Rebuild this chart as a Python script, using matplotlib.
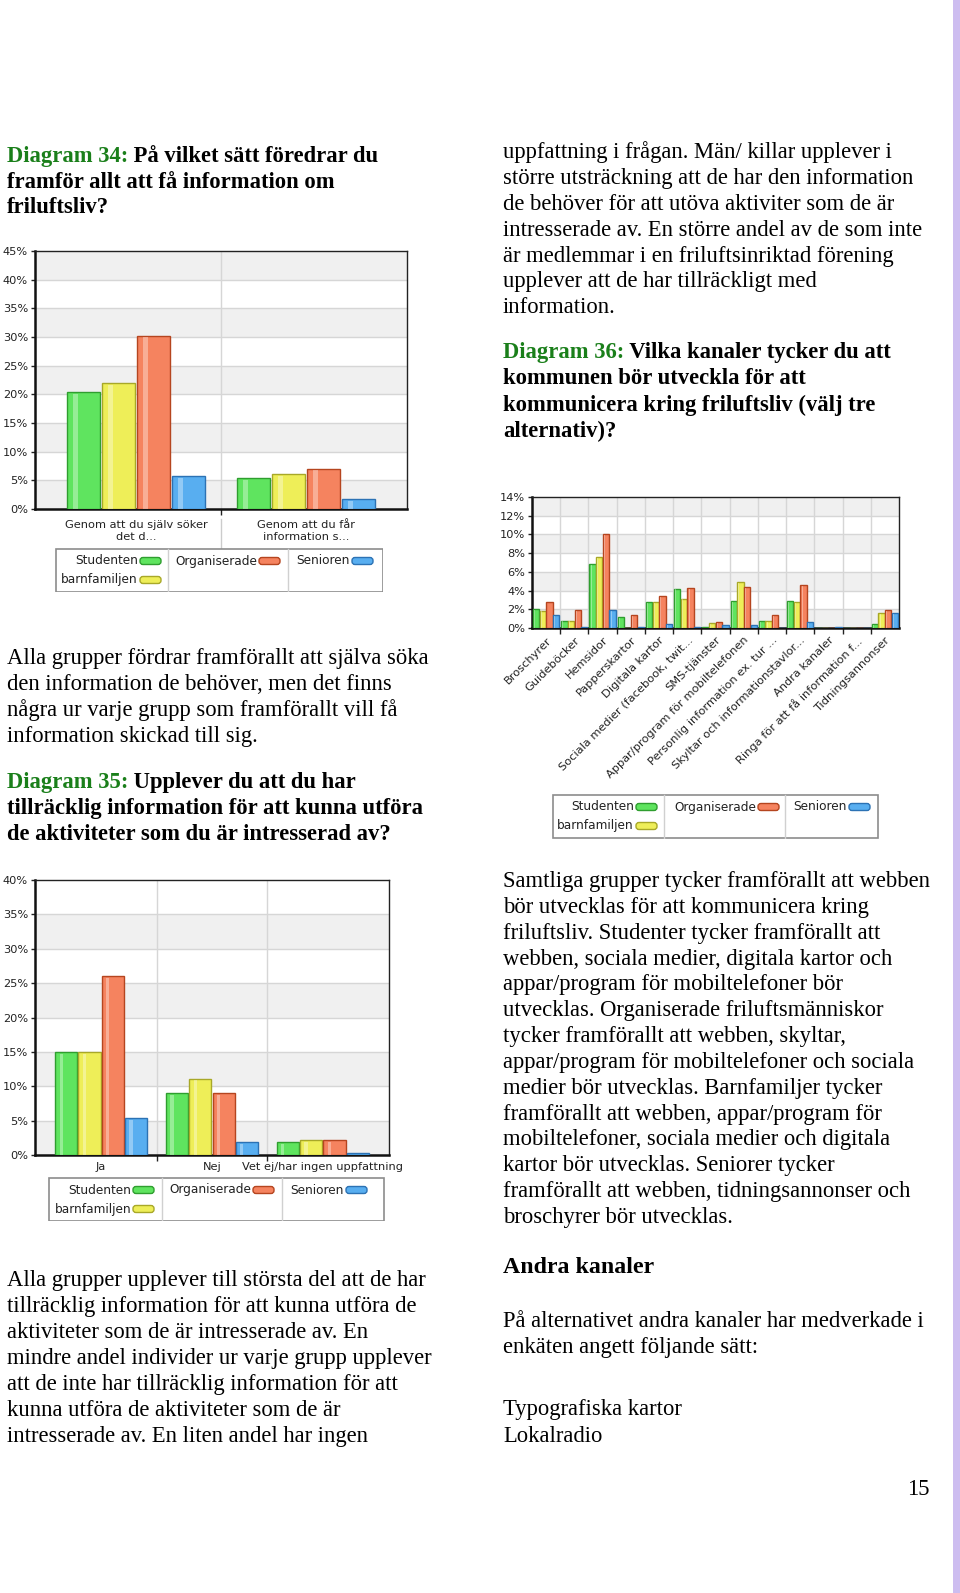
import numpy as np
import matplotlib
matplotlib.use("Agg")
import matplotlib.pyplot as plt
from matplotlib.patches import FancyBboxPatch, Rectangle
from matplotlib.lines import Line2D

# ---------------- data ----------------
series_names = ["Studenten", "barnfamiljen", "Organiserade", "Senioren"]

cat34 = ["Genom att du själv söker\ndet d...", "Genom att du får\ninformation s..."]
stud34 = [20.4, 5.4]
barn34 = [21.9, 6.1]
org34 = [30.2, 7.0]
sen34 = [5.7, 1.7]
yticks34 = [0, 5, 10, 15, 20, 25, 30, 35, 40, 45]

cat35 = ["Ja", "Nej", "Vet ej/har ingen uppfattning"]
stud35 = [15.0, 9.0, 1.85]
barn35 = [15.0, 11.1, 2.2]
org35 = [26.0, 9.0, 2.2]
sen35 = [5.4, 1.85, 0.3]
yticks35 = [0, 5, 10, 15, 20, 25, 30, 35, 40]

cat36 = ["Broschyrer", "Guideböcker", "Hemsidor", "Papperskartor", "Digitala kartor",
         "Sociala medier (facebook, twit...", "SMS-tjänster",
         "Appar/program för mobiltelefonen", "Personlig information ex. tur ...",
         "Skyltar och informationstavlor...", "Andra kanaler",
         "Ringa för att få information f...", "Tidningsannonser"]
stud36 = [2.0, 0.8, 6.8, 1.2, 2.8, 4.2, 0.15, 2.9, 0.7, 2.9, 0.0, 0.0, 0.45]
barn36 = [1.85, 0.8, 7.6, 0.0, 2.8, 3.15, 0.5, 4.9, 0.7, 2.8, 0.0, 0.0, 1.6]
org36 = [2.8, 1.95, 10.0, 1.35, 3.4, 4.3, 0.6, 4.35, 1.35, 4.6, 0.0, 0.0, 1.9]
sen36 = [1.4, 0.15, 1.9, 0.15, 0.45, 0.15, 0.3, 0.3, 0.0, 0.6, 0.15, 0.0, 1.6]
yticks36 = [0, 2, 4, 6, 8, 10, 12, 14]

# ---------------- style ----------------
FILLS = ["#5fe45f", "#eeee58", "#f5835f", "#58aef0"]
EDGES = ["#2f9e2f", "#a8a828", "#b5451f", "#2c72b4"]
GREEN_HEAD = "#1a7f1a"
SERIF = "Liberation Serif"
SANS = "DejaVu Sans"
BODY = 16.3
TICK = 8.2

W, H = 960, 1593
fig = plt.figure(figsize=(W / 100, H / 100), dpi=100)
fig.patch.set_facecolor("white")


def rect(x0, y0, x1, y1):
    return [x0 / W, 1 - y1 / H, (x1 - x0) / W, (y1 - y0) / H]


def fx(x):
    return x / W


def fy(y):
    return 1 - y / H


renderer = fig.canvas.get_renderer()


def body(x, y, lines, step=26.0, **kw):
    for i, ln in enumerate(lines):
        fig.text(fx(x), fy(y + i * step), ln, fontsize=BODY, family=SERIF,
                 va="baseline", ha="left", color="black", **kw)


def heading(x, y, label, lines, step=26.0):
    t = fig.text(fx(x), fy(y), label, fontsize=BODY, family=SERIF, weight="bold",
                 va="baseline", ha="left", color=GREEN_HEAD)
    bb = t.get_window_extent(renderer)
    fig.text(bb.x1 / W, fy(y), " " + lines[0], fontsize=BODY, family=SERIF,
             weight="bold", va="baseline", ha="left", color="black")
    for i, ln in enumerate(lines[1:], start=1):
        fig.text(fx(x), fy(y + i * step), ln, fontsize=BODY, family=SERIF,
                 weight="bold", va="baseline", ha="left", color="black")


def bar_chart(box, cats, series, yticks, width, xpad, rotate=False, sep_line=None,
              xpad_pts=4, linespacing=1.05):
    ax = fig.add_axes(rect(*box))
    n = len(cats)
    x = np.arange(n)
    ymax = yticks[-1]
    ax.set_xlim(-xpad, n - 1 + xpad)
    ax.set_ylim(0, ymax)
    # alternating bands
    for k in range(0, len(yticks) - 1, 2):
        ax.axhspan(yticks[k], yticks[k + 1], color="#f0f0f0", zorder=0, lw=0)
    for t in yticks[1:-1]:
        ax.axhline(t, color="#d6d6d6", lw=1.0, zorder=1)
    for b in np.arange(n - 1) + 0.5:
        ax.axvline(b, color="#d6d6d6", lw=1.0, zorder=1)
    for i, vals in enumerate(series):
        vals = np.asarray(vals, dtype=float)
        off = (i - 1.5) * width
        ax.bar(x + off, vals, width=width * 0.95, color=FILLS[i], edgecolor=EDGES[i],
               linewidth=1.0, zorder=3)
        hv = np.where(vals > 0.3, vals - ymax * 0.006, 0)
        ax.bar(x + off - width * 0.22, hv, width=width * 0.14, color="white",
               alpha=0.35, linewidth=0, zorder=4)
    ax.set_yticks(yticks)
    ax.set_yticklabels([f"{v}%" for v in yticks], fontsize=TICK, family=SANS, color="#222")
    ax.set_xticks(x)
    if rotate:
        ax.set_xticklabels(cats, rotation=45, ha="right", rotation_mode="anchor",
                           fontsize=TICK, family=SANS, color="#222")
    else:
        ax.set_xticklabels(cats, fontsize=TICK, family=SANS, color="#222",
                           linespacing=linespacing)
    ax.tick_params(axis="x", length=0, pad=xpad_pts)
    ax.tick_params(axis="y", length=3, width=1, pad=2, color="#222")
    ax.set_xticks(np.arange(n - 1) + 0.5, minor=True)
    ax.tick_params(axis="x", which="minor", length=4, width=1, color="#222")
    for s in ["left", "bottom"]:
        ax.spines[s].set_linewidth(1.8)
        ax.spines[s].set_color("#111")
    for s in ["top", "right"]:
        ax.spines[s].set_linewidth(1.0)
        ax.spines[s].set_color("#222")
    if sep_line is not None:
        for b in np.arange(n - 1) + 0.5:
            ax.add_line(Line2D([b, b], [sep_line[0] * ymax, sep_line[1] * ymax],
                               color="#cccccc", lw=1.0, clip_on=False))
    return ax


def legend_box(x0, y0, x1, y1, seps, sw):
    lax = fig.add_axes(rect(x0, y0, x1, y1))
    lax.set_xlim(0, x1 - x0)
    lax.set_ylim(y1 - y0, 0)
    lax.axis("off")
    lax.add_patch(Rectangle((0.5, 0.5), x1 - x0 - 1, y1 - y0 - 1, fill=True,
                            facecolor="white", edgecolor="#8c8c8c", lw=1.2))
    for s in seps:
        lax.add_line(Line2D([s, s], [1, y1 - y0 - 1], color="#d0d0d0", lw=1.0))
    pos = [(sw[0], 13), (sw[0], 32), (sw[1], 13), (sw[2], 13)]
    for i, name in enumerate(series_names):
        sx, sy = pos[i]
        lax.add_patch(FancyBboxPatch((sx + 1, sy - 3.5), 21, 7,
                                     boxstyle="round,pad=0,rounding_size=3",
                                     facecolor=FILLS[i], edgecolor=EDGES[i], lw=1.0))
        lax.text(sx - 1, sy, name, fontsize=8.7, family=SANS, ha="right",
                 va="center", color="#222")
    return lax


# ---------------- charts ----------------
bar_chart((35, 251, 407, 509), cat34, [stud34, barn34, org34, sen34], yticks34,
          width=0.206, xpad=0.595, sep_line=(-0.04, -0.15), xpad_pts=8,
          linespacing=1.25)
legend_box(55, 548, 383, 592, seps=[113, 233], sw=[84, 203, 296])

bar_chart((532, 497, 899, 628), cat36, [stud36, barn36, org36, sen36], yticks36,
          width=0.235, xpad=0.5, rotate=True, xpad_pts=5)
legend_box(552, 794, 879, 839, seps=[112, 233], sw=[83, 205, 296])

bar_chart((35, 880, 389, 1155), cat35, [stud35, barn35, org35, sen35], yticks35,
          width=0.21, xpad=0.597, xpad_pts=5)
legend_box(48, 1177, 385, 1221, seps=[114, 234], sw=[84, 204, 297])

# ---------------- text ----------------
heading(7, 162, "Diagram 34:", ["På vilket sätt föredrar du",
                                 "framför allt att få information om",
                                 "friluftsliv?"], step=25.7)

body(503, 158, ["uppfattning i frågan. Män/ killar upplever i",
                "större utsträckning att de har den information",
                "de behöver för att utöva aktiviter som de är",
                "intresserade av. En större andel av de som inte",
                "är medlemmar i en friluftsinriktad förening",
                "upplever att de har tillräckligt med",
                "information."], step=25.9)

heading(503, 358, "Diagram 36:", ["Vilka kanaler tycker du att",
                                  "kommunen bör utveckla för att",
                                  "kommunicera kring friluftsliv (välj tre",
                                  "alternativ)?"], step=26.3)

body(7, 664, ["Alla grupper fördrar framförallt att själva söka",
              "den information de behöver, men det finns",
              "några ur varje grupp som framförallt vill få",
              "information skickad till sig."], step=26.0)

heading(7, 788, "Diagram 35:", ["Upplever du att du har",
                                "tillräcklig information för att kunna utföra",
                                "de aktiviteter som du är intresserad av?"], step=26.0)

body(503, 887, ["Samtliga grupper tycker framförallt att webben",
                "bör utvecklas för att kommunicera kring",
                "friluftsliv. Studenter tycker framförallt att",
                "webben, sociala medier, digitala kartor och",
                "appar/program för mobiltelefoner bör",
                "utvecklas. Organiserade friluftsmänniskor",
                "tycker framförallt att webben, skyltar,",
                "appar/program för mobiltelefoner och sociala",
                "medier bör utvecklas. Barnfamiljer tycker",
                "framförallt att webben, appar/program för",
                "mobiltelefoner, sociala medier och digitala",
                "kartor bör utvecklas. Seniorer tycker",
                "framförallt att webben, tidningsannonser och",
                "broschyrer bör utvecklas."], step=25.85)

fig.text(fx(503), fy(1273), "Andra kanaler", fontsize=BODY + 0.9, family=SERIF,
         weight="bold", va="baseline", ha="left")
body(503, 1327, ["På alternativet andra kanaler har medverkade i",
                 "enkäten angett följande sätt:"], step=25.5)
body(503, 1415, ["Typografiska kartor", "Lokalradio"], step=26.5)

body(7, 1286, ["Alla grupper upplever till största del att de har",
               "tillräcklig information för att kunna utföra de",
               "aktiviteter som de är intresserade av. En",
               "mindre andel individer ur varje grupp upplever",
               "att de inte har tillräcklig information för att",
               "kunna utföra de aktiviteter som de är",
               "intresserade av. En liten andel har ingen"], step=26.0)

fig.text(fx(930), fy(1495), "15", fontsize=BODY, family=SERIF, va="baseline", ha="right")

# right lavender strip
fig.patches.append(Rectangle((fx(953), 0), fx(7), 1, transform=fig.transFigure,
                             facecolor="#cdbdf0", edgecolor="none"))

fig.savefig("out.png", dpi=100, facecolor="white")
